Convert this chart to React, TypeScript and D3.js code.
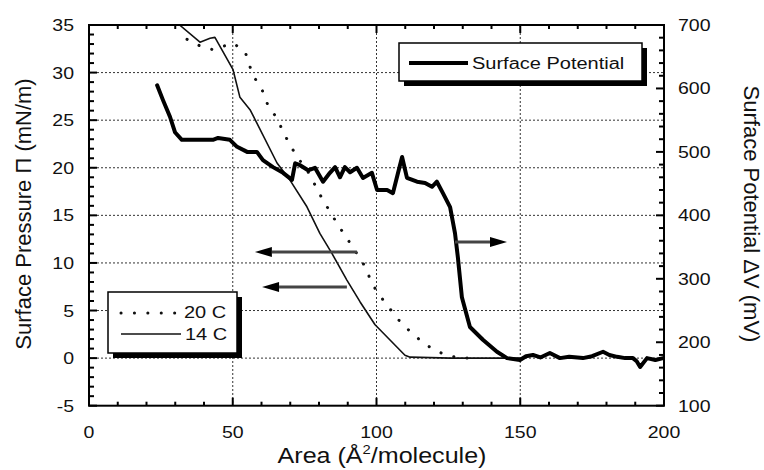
import React from "react";
import * as d3 from "d3";

// ---- data ----
const iso14Area = [31.5, 38.6, 42.1, 43.8, 50.1, 52.5, 56.0, 58.4, 65.4, 69.9, 75.8, 80.3, 84.5, 89.7, 94.3, 99.5, 104.7, 109.9, 111.7, 125.6, 150];
const iso14Pi = [35.0, 33.2, 33.6, 33.7, 30.3, 27.4, 26.1, 24.7, 20.5, 18.7, 15.9, 13.1, 11.0, 8.2, 5.9, 3.5, 1.9, 0.3, 0.1, 0, 0];

const iso20Area = [34.1, 38.6, 43.1, 50.1, 54.3, 56.0, 57.7, 60.5, 62.3, 65.4, 67.5, 69.9, 72.7, 75.8, 78.6, 81.0, 83.8, 86.6, 89.7, 95.3, 97.7, 100.2, 103.7, 107.1, 111.0, 115.1, 119.7, 124.5, 129.0, 136];
const iso20Pi = [33.5, 32.8, 32.4, 33.1, 32.2, 30.6, 29.4, 28.0, 26.5, 25.2, 23.8, 22.4, 21.0, 19.8, 18.2, 16.8, 15.4, 14.0, 12.6, 10.0, 8.4, 6.9, 5.6, 4.2, 3.0, 1.9, 0.9, 0.3, 0, 0];

const spArea = [23.7, 25.7, 28.2, 29.9, 32.3, 43.1, 44.9, 49.0, 51.5, 55.0, 58.4, 60.5, 64.0, 67.5, 70.6, 71.7, 73.4, 76.2, 78.6, 81.4, 83.8, 85.6, 87.3, 89.0, 90.8, 93.2, 95.3, 98.4, 100.2, 103.7, 105.7, 107.5, 108.9, 110.6, 114.1, 116.9, 119.3, 121.0, 123.1, 125.6, 127.3, 128.3, 129.7, 132.5, 137.0, 141.9, 145.4, 149.9, 152.0, 154.4, 157.0, 160.3, 163.8, 167.0, 171.8, 175.0, 178.8, 181.0, 183.7, 186.5, 189.2, 190.5, 191.7, 194.1, 197.0, 199.7];
const spMv = [605, 582, 555, 531, 519, 519, 522, 519, 508, 500, 500, 487, 476, 467, 456, 482, 479, 471, 475, 453, 467, 476, 460, 476, 468, 475, 459, 467, 440, 440, 435, 467, 492, 459, 453, 451, 445, 453, 435, 413, 372, 334, 271, 224, 204, 185, 175, 172, 178, 180, 176, 183, 175, 177, 175, 178, 185, 180, 177, 175, 175, 170, 161, 175, 172, 175];

const areaMajor = [0, 50, 100, 150, 200];
const piMajor = [-5, 0, 5, 10, 15, 20, 25, 30, 35];
const mvMajor = [100, 200, 300, 400, 500, 600, 700];
const piGrid = [0, 5, 10, 15, 20, 25, 30];
const areaGrid = [50, 100, 150];

// arrows: [fromArea, toArea, pi]
const arrowFrom = [93.2, 89.7, 127.3];
const arrowTo = [57.7, 60.2, 145.4];
const arrowPi = [11.15, 7.47, 12.2];

const L = 89, R = 664, T = 25, B = 405.7;
const FONT = "'Liberation Sans', Arial, Helvetica, sans-serif";

export default function App() {
  const x = d3.scaleLinear().domain([0, 200]).range([L, R]);
  const yL = d3.scaleLinear().domain([-5, 35]).range([B, T]);
  const yR = d3.scaleLinear().domain([100, 700]).range([B, T]);

  const line14 = d3.line<number>().x((_, i) => x(iso14Area[i])).y((d) => yL(d));
  const line20 = d3.line<number>().x((_, i) => x(iso20Area[i])).y((d) => yL(d));
  const lineSp = d3.line<number>().x((_, i) => x(spArea[i])).y((d) => yR(d));

  const areaMinor = d3.range(0, 201, 10).filter((v) => v % 50 !== 0);
  const piMinor = d3.range(-5, 36, 1).filter((v) => v % 5 !== 0);
  const mvMinor = d3.range(100, 701, 20).filter((v) => v % 100 !== 0);

  const tickSx = 1.22;
  const legSx = 1.25;

  return (
    <svg width={764} height={470} style={{ position: "absolute", left: 0, top: 0, background: "#fff" }} fontFamily={FONT}>
      <defs>
        <clipPath id="plot">
          <rect x={L} y={T} width={R - L} height={B - T} />
        </clipPath>
      </defs>
      {/* grid */}
      <g stroke="#333" strokeWidth={1} strokeDasharray="2,2">
        {piGrid.map((v) => (
          <line key={"h" + v} x1={L} x2={R} y1={yL(v)} y2={yL(v)} />
        ))}
        {areaGrid.map((v) => (
          <line key={"v" + v} x1={x(v)} x2={x(v)} y1={T} y2={B} />
        ))}
      </g>
      {/* curves */}
      <g clipPath="url(#plot)" fill="none">
        <path d={line20(iso20Pi) || ""} stroke="#111" strokeWidth={3} strokeDasharray="0.1,13.3" strokeLinecap="round" />
        <path d={line14(iso14Pi) || ""} stroke="#111" strokeWidth={1.6} strokeLinejoin="round" />
        <path d={lineSp(spMv) || ""} stroke="#000" strokeWidth={4} strokeLinejoin="round" strokeLinecap="round" />
      </g>
      {/* arrows */}
      <g>
        {arrowPi.map((p, i) => {
          const x1 = x(arrowFrom[i]);
          const x2 = x(arrowTo[i]);
          const yy = yL(p);
          const dir = Math.sign(x2 - x1);
          const hl = 17;
          return (
            <g key={"a" + i}>
              <line x1={x1} x2={x2 - dir * hl} y1={yy} y2={yy} stroke="#444" strokeWidth={3} />
              <path d={`M${x2},${yy} L${x2 - dir * hl},${yy - 5} L${x2 - dir * hl},${yy + 5} Z`} fill="#000" />
            </g>
          );
        })}
      </g>
      {/* legend: surface potential */}
      <g>
        <rect x={404} y={48} width={243} height={38} fill="#000" />
        <rect x={399} y={43} width={243} height={38} fill="#fff" stroke="#000" strokeWidth={1.5} />
        <line x1={409} x2={468} y1={63} y2={63} stroke="#000" strokeWidth={4} />
        <text transform={`translate(472,69) scale(${legSx},1)`} fontSize={16} fill="#111">Surface Potential</text>
      </g>
      {/* legend: temperatures */}
      <g>
        <rect x={113} y={297} width={129} height={61} fill="#000" />
        <rect x={108} y={292} width={129} height={61} fill="#fff" stroke="#000" strokeWidth={1.5} />
        <line x1={121} x2={181} y1={313} y2={313} stroke="#111" strokeWidth={3} strokeDasharray="0.1,13.3" strokeLinecap="round" />
        <line x1={121} x2={181} y1={334} y2={334} stroke="#111" strokeWidth={1.6} />
        <text transform={`translate(184,318) scale(${legSx},1)`} fontSize={16} fill="#111">20 C</text>
        <text transform={`translate(185,340) scale(${legSx},1)`} fontSize={16} fill="#111">14 C</text>
      </g>
      {/* frame */}
      <rect x={L} y={T} width={R - L} height={B - T} fill="none" stroke="#000" strokeWidth={2} />
      {/* ticks */}
      <g stroke="#000" strokeWidth={2}>
        {areaMajor.map((v) => (
          <g key={"am" + v}>
            <line x1={x(v)} x2={x(v)} y1={B} y2={B - 8} />
            <line x1={x(v)} x2={x(v)} y1={T} y2={T + 8} />
          </g>
        ))}
        {areaMinor.map((v) => (
          <g key={"an" + v}>
            <line x1={x(v)} x2={x(v)} y1={B} y2={B - 4} />
            <line x1={x(v)} x2={x(v)} y1={T} y2={T + 4} />
          </g>
        ))}
        {piMajor.map((v) => (
          <line key={"pm" + v} x1={L} x2={L + 8} y1={yL(v)} y2={yL(v)} />
        ))}
        {piMinor.map((v) => (
          <line key={"pn" + v} x1={L} x2={L + 5} y1={yL(v)} y2={yL(v)} />
        ))}
        {mvMajor.map((v) => (
          <line key={"mm" + v} x1={R} x2={R - 8} y1={yR(v)} y2={yR(v)} />
        ))}
        {mvMinor.map((v) => (
          <line key={"mn" + v} x1={R} x2={R - 5} y1={yR(v)} y2={yR(v)} />
        ))}
      </g>
      {/* tick labels */}
      <g fontSize={16} fill="#111">
        {areaMajor.map((v) => (
          <text key={"al" + v} transform={`translate(${x(v)},438) scale(${tickSx},1)`} textAnchor="middle">{v}</text>
        ))}
        {piMajor.map((v) => (
          <text key={"pl" + v} transform={`translate(74,${yL(v) + 6}) scale(${tickSx},1)`} textAnchor="end">{v}</text>
        ))}
        {mvMajor.map((v) => (
          <text key={"ml" + v} transform={`translate(678,${yR(v) + 6}) scale(${tickSx},1)`} textAnchor="start">{v}</text>
        ))}
      </g>
      {/* axis titles */}
      <g fontSize={22} fill="#111">
        <text transform={`translate(382,463) scale(1.14,1)`} textAnchor="middle">
          Area (Å<tspan fontSize={13} dy={-9}>2</tspan><tspan dy={9}>/molecule)</tspan>
        </text>
        <text transform={`translate(31,214) rotate(-90)`} textAnchor="middle">Surface Pressure Π (mN/m)</text>
        <text transform={`translate(744,214) rotate(90)`} textAnchor="middle">Surface Potential ΔV (mV)</text>
      </g>
    </svg>
  );
}
